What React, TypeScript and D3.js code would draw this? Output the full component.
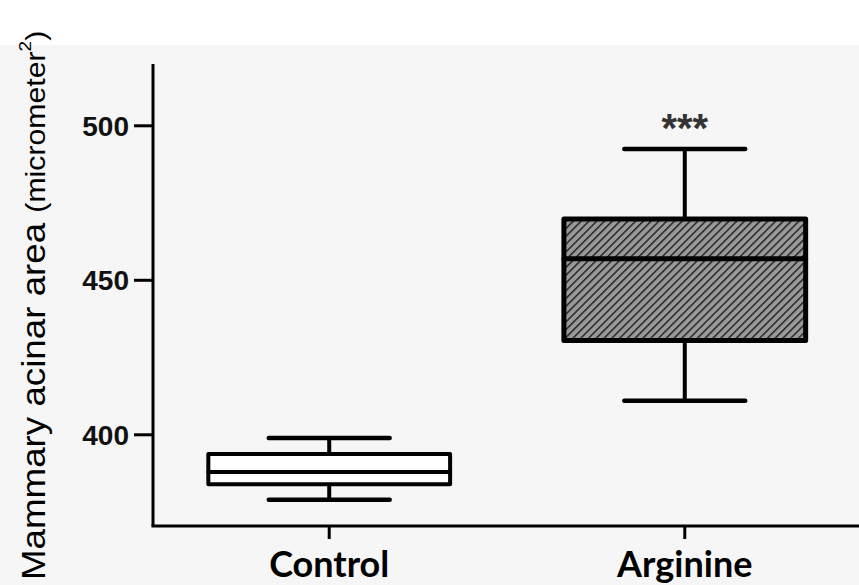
import React from "react";
import * as d3 from "d3";

// groups and their box-plot summaries (micrometer^2)
const groups = ["Control", "Arginine"];
const whiskerLow = [379, 411];
const q1 = [384, 430.5];
const median = [388, 457];
const q3 = [393.8, 469.8];
const whiskerHigh = [399, 492.5];
const hatched = [false, true];
const significance = ["", "***"];
const yTicks = [400, 450, 500];

const width = 859;
const height = 585;
const margin = { top: 64, right: 0, bottom: 59, left: 153 };

export default function App() {
  const innerBottom = height - margin.bottom;

  const y = d3.scaleLinear().domain([370, 520]).range([innerBottom + 1.5, margin.top]);
  const x = d3.scalePoint().domain(groups).range([155, 859]).padding(0.49);
  const step = x.step();
  const boxW = step * 0.68;
  const capW = step * 0.34;

  return (
    <svg
      width={width}
      height={height}
      style={{ position: "absolute", left: 0, top: 0, background: "#ffffff" }}
    >
      <defs>
        <pattern id="hatch" width="5.5" height="5.5" patternUnits="userSpaceOnUse" patternTransform="rotate(45)">
          <rect width="5.5" height="5.5" fill="#9a9a9a" />
          <line x1="0" y1="0" x2="0" y2="5.5" stroke="#222" strokeWidth="3" />
        </pattern>
      </defs>
      <rect x={0} y={45} width={width} height={height - 45} fill="#f6f6f6" />

      {/* boxes */}
      {groups.map((g, i) => {
        const cx = x(g) as number;
        return (
          <g key={g} stroke="#000" strokeLinecap="round">
            <line x1={cx} x2={cx} y1={y(whiskerHigh[i])} y2={y(q3[i])} strokeWidth={4} />
            <line x1={cx} x2={cx} y1={y(q1[i])} y2={y(whiskerLow[i])} strokeWidth={4} />
            <line x1={cx - capW / 2} x2={cx + capW / 2} y1={y(whiskerHigh[i])} y2={y(whiskerHigh[i])} strokeWidth={4.5} />
            <line x1={cx - capW / 2} x2={cx + capW / 2} y1={y(whiskerLow[i])} y2={y(whiskerLow[i])} strokeWidth={4.5} />
            <rect
              x={cx - boxW / 2}
              y={y(q3[i])}
              width={boxW}
              height={y(q1[i]) - y(q3[i])}
              fill={hatched[i] ? "url(#hatch)" : "#ffffff"}
              strokeWidth={hatched[i] ? 5 : 4}
              strokeLinejoin="round"
            />
            <line x1={cx - boxW / 2} x2={cx + boxW / 2} y1={y(median[i])} y2={y(median[i])} strokeWidth={hatched[i] ? 5 : 4} />
            {significance[i] && (
              <text
                x={cx}
                y={y(whiskerHigh[i]) - 7}
                textAnchor="middle"
                fontFamily="Arial, 'Liberation Sans', sans-serif"
                fontWeight="bold"
                fontSize={40}
                fill="#333"
                stroke="none"
              >
                {significance[i]}
              </text>
            )}
          </g>
        );
      })}

      {/* y axis */}
      <line x1={margin.left} x2={margin.left} y1={margin.top} y2={innerBottom} stroke="#000" strokeWidth={3} />
      {yTicks.map((t) => (
        <g key={t}>
          <line x1={margin.left - 19} x2={margin.left} y1={y(t)} y2={y(t)} stroke="#000" strokeWidth={3} />
          <text
            x={margin.left - 24}
            y={y(t)}
            dy="0.36em"
            textAnchor="end"
            fontFamily="Arial, 'Liberation Sans', sans-serif"
            fontWeight="bold"
            fontSize={28}
            fill="#111"
          >
            {t}
          </text>
        </g>
      ))}

      {/* x axis */}
      <line x1={margin.left - 1.5} x2={width} y1={innerBottom} y2={innerBottom} stroke="#000" strokeWidth={3} />
      {groups.map((g) => (
        <g key={g}>
          <line x1={x(g)} x2={x(g)} y1={innerBottom} y2={innerBottom + 13} stroke="#000" strokeWidth={3} />
          <text
            x={x(g)}
            y={577}
            textAnchor="middle"
            fontFamily="Lato, 'Open Sans', sans-serif"
            fontWeight="bold"
            fontSize={36}
            fill="#000"
          >
            {g}
          </text>
        </g>
      ))}

      {/* y axis title */}
      <text
        transform="translate(45,580) rotate(-90) scale(1.12,1)"
        fontFamily="Arial, 'Liberation Sans', sans-serif"
        fontSize={32.8}
        fill="#000"
      >
        Mammary acinar area{" "}
        <tspan fontSize={27}>(micrometer</tspan>
        <tspan fontSize={17} dy={-14}>2</tspan>
        <tspan fontSize={27} dy={14}>)</tspan>
      </text>
    </svg>
  );
}
